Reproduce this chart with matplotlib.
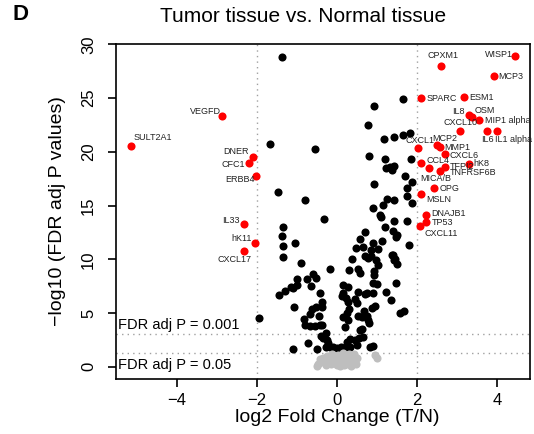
import matplotlib
matplotlib.use("Agg")
import matplotlib.pyplot as plt

plt.rcParams['font.family'] = ['Liberation Sans', 'DejaVu Sans']

# significant genes (|log2FC| > 2), labelled in red
genes = ["SULT2A1", "VEGFD", "DNER", "CFC1", "ERBB4", "IL33", "hK11", "CXCL17",
         "WISP1", "CPXM1", "MCP3", "SPARC", "ESM1", "IL8", "OSM", "MIP1 alpha",
         "CXCL10", "IL6", "IL1 alpha", "CXCL1", "MCP2", "MMP1", "CXCL6", "CCL4",
         "TFPI2", "hK8", "TNFRSF6B", "MICA/B", "OPG", "MSLN", "DNAJB1", "TP53", "CXCL11"]
gene_fc = [-5.14, -2.875, -2.095, -2.19, -2.02, -2.33, -2.04, -2.33,
           4.44, 2.60, 3.92, 2.10, 3.17, 3.30, 3.37, 3.53,
           3.07, 3.75, 4.00, 2.02, 2.50, 2.57, 2.69, 2.10,
           2.70, 3.29, 2.57, 2.29, 2.43, 2.09, 2.23, 2.23, 2.07]
gene_p = [20.51, 23.32, 19.53, 18.98, 17.74, 13.27, 11.54, 10.76,
          28.87, 27.94, 27.04, 25.00, 25.06, 23.41, 23.26, 22.95,
          21.90, 21.90, 21.90, 20.32, 20.60, 20.44, 19.82, 18.98,
          18.55, 18.89, 18.17, 18.51, 16.62, 16.03, 14.08, 13.46, 13.09]

# FDR < 0.05, |log2FC| <= 2
sig_fc = [-1.38, -1.66, -1.46, -0.81, -0.55, -0.33,
          1.65, 0.92, 0.77, 1.83, 1.64, 1.42, 1.16,
          0.80, 1.20, 1.84, 1.22, 1.42, 1.37, 1.32,
          1.69, 1.86, 0.93, 1.74, 1.74, 1.87, 1.25,
          1.41, 1.15, 0.89, 1.06, 1.10, 1.41, 1.74,
          1.20, 1.39, 1.50, 1.47, 0.71, 0.58, 1.80,
          0.90, 1.11, 0.84, 1.01, 0.48, 0.70, 0.84,
          0.96, 1.01, 0.37, 1.40, 1.45, 1.49, 0.93,
          0.92, 0.53, 0.57, 0.31, -0.17, -0.60, -0.76,
          -1.00, -1.35, -1.36, -1.35, -1.34, -1.05, -0.89,
          -0.52, -0.99, -1.09, -1.30, -1.45, -0.65, -0.42, -1.14, -1.07, -1.95,
          -0.38, -0.37, -0.52, -0.67, -0.46, -0.82, -0.79, -0.67, -0.55, -0.42,
          -0.37, -0.27, -0.40, -0.34, -0.24, -0.22, -0.28, -0.51, -1.10, -0.72,
          -0.17, -0.09, -0.01, -0.62,
          0.16, 0.14, 0.12, 0.22, 0.27, 0.28, 0.46, 0.50, 0.30, 0.24,
          0.14, 0.27, 0.20, 0.53, 0.63, 0.74, 0.77, 0.67, 0.88, 0.94,
          0.76, 0.91, 0.70, 0.52, 0.91, 0.99, 1.47, 1.22, 1.35, 1.57,
          1.67, 0.81, 0.62, 0.57, 0.66, 0.55, 0.45, 0.51, 0.32, 0.24,
          0.32, 0.22, 0.09, 0.12, 0.82, 0.89, 0.64, 0.78, 1.36, 1.43]
sig_p = [28.84, 20.72, 16.30, 15.48, 20.22, 13.74,
         24.93, 24.22, 22.48, 21.77, 21.52, 21.40, 21.18,
         19.60, 19.32, 19.32, 18.48, 18.67, 18.30, 18.60,
         17.74, 17.21, 17.00, 16.62, 15.85, 15.26, 15.63,
         15.48, 15.07, 14.79, 14.08, 13.90, 13.58, 13.55,
         13.02, 12.65, 12.22, 12.04, 12.53, 11.85, 11.29,
         11.48, 11.69, 10.88, 10.98, 11.07, 10.30, 10.33,
         9.90, 9.49, 9.99, 10.39, 10.02, 9.55, 8.87,
         8.56, 9.06, 8.74, 9.00, 9.06, 8.62, 8.19,
         8.13, 13.02, 12.16, 11.20, 10.18, 11.48, 9.65,
         8.22, 7.60, 7.29, 7.04, 6.64, 7.51, 6.83, 7.44, 5.52, 4.56,
         5.99, 5.55, 5.55, 4.93, 4.72, 4.41, 3.88, 3.82, 3.82, 3.85,
         3.90, 3.10, 2.86, 2.64, 2.48, 2.17, 1.86, 1.65, 1.68, 2.17,
         1.80, 1.86, 1.77, 5.40,
         7.60, 6.83, 6.60, 6.36, 6.05, 7.39, 6.27, 5.90, 5.40, 4.97,
         4.60, 4.34, 3.72, 4.74, 4.60, 4.74, 4.34, 5.15, 5.43, 5.65,
         6.83, 6.83, 6.73, 6.92, 7.76, 7.69, 7.76, 6.92, 6.18, 5.00,
         5.20, 4.10, 3.51, 3.41, 2.79, 2.70, 2.48, 2.02, 2.55, 2.33,
         1.86, 1.80, 1.86, 1.71, 1.86, 1.95, 11.16, 10.08, 10.39, 9.93]

# not significant (FDR >= 0.05)
ns_fc = [-0.51, -0.48, -0.40, -0.30, -0.24, -0.20, -0.15, -0.10, -0.05, 0.00,
         0.02, 0.05, 0.10, 0.12, 0.18, 0.20, 0.25, 0.28, 0.32, 0.35,
         0.40, 0.42, 0.48, 0.50, -0.35, -0.28, 0.08, -0.12, 0.15, 0.30,
         -0.42, 0.95, 0.99, 0.45, -0.02, 0.22]
ns_p = [0.10, 0.30, 0.45, 0.50, 1.00, 0.70, 0.30, 0.90, 0.55, 0.20,
        1.10, 0.75, 0.40, 0.95, 0.15, 0.60, 1.05, 0.35, 0.80, 0.10,
        0.55, 1.15, 0.30, 0.85, 0.85, 0.20, 0.05, 1.20, 1.25, 1.20,
        0.70, 1.09, 0.78, 0.95, 0.35, 0.25]

# text placement for gene labels: offset in pixels, horizontal alignment
label_pos = [(3, 9, 'left'), (-1, 5, 'right'), (-4, 5, 'right'), (-4, -2, 'right'),
             (-1, -3, 'right'), (-4, 4, 'right'), (-3, 4, 'right'), (8, -8, 'right'),
             (-2, 2, 'right'), (2, 11, 'center'), (4, 0, 'left'), (5, 0, 'left'),
             (5, 0, 'left'), (-5, 4, 'right'), (2, 6, 'left'), (6, 0, 'left'),
             (0, 9, 'center'), (0, -8, 'center'), (-2, -8, 'left'), (2, 8, 'center'),
             (7, 7, 'center'), (4, 0, 'left'), (5, -2, 'left'), (5, 2, 'left'),
             (4, 1, 'left'), (4, 0, 'left'), (10, -1, 'left'), (7, -11, 'center'),
             (5, 0, 'left'), (5, -5, 'left'), (5, 2, 'left'), (5, 0, 'left'), (4, -7, 'left')]

fig = plt.figure(figsize=(5.34, 4.34), dpi=100)
ax = fig.add_axes([0.2165, 0.1265, 0.7766, 0.7721])

ax.axvline(-2, color='#a0a0a0', lw=1, ls=(0, (1, 3)))
ax.axvline(2, color='#a0a0a0', lw=1, ls=(0, (1, 3)))
ax.axhline(3, color='#a0a0a0', lw=1, ls=(0, (1, 3)))
ax.axhline(1.3, color='#a0a0a0', lw=1, ls=(0, (1, 3)))

ax.scatter(sig_fc, sig_p, s=34, c='black', linewidths=0, zorder=3)
ax.scatter(ns_fc, ns_p, s=34, c='#bebebe', linewidths=0, zorder=3)
ax.scatter(gene_fc, gene_p, s=34, c='red', linewidths=0, zorder=4)

for g, x, y, (dx, dy, ha) in zip(genes, gene_fc, gene_p, label_pos):
    ax.annotate(g, (x, y), xytext=(dx, dy), textcoords='offset pixels',
                ha=ha, va='center', fontsize=6.5, color='#222222', zorder=5)

ax.text(-5.45, 3.25, "FDR adj P = 0.001", fontsize=10.5, ha='left', va='bottom')
ax.text(-5.45, 0.2, "FDR adj P = 0.05", fontsize=10.5, ha='left', va='center')

ax.set_xlim(-5.52, 4.82)
ax.set_ylim(-1.15, 30.03)
ax.set_xticks([-4, -2, 0, 2, 4])
ax.set_yticks([0, 5, 10, 15, 20, 25, 30])
for s in ax.spines.values():
    s.set_linewidth(1.2)
ax.tick_params(axis='both', length=6, width=1.2, labelsize=12)
ax.tick_params(axis='x', pad=4)
ax.tick_params(axis='y', pad=8)
for lab in ax.get_yticklabels():
    lab.set_rotation(90)
    lab.set_va('center')

fig.text(303 / 534, 1 - 17 / 434, "Tumor tissue vs. Normal tissue", ha='center', va='center', fontsize=15)
fig.text(13 / 534, 1 - 14 / 434, "D", ha='left', va='center', fontsize=16, fontweight='bold')
fig.text(337 / 534, 1 - 418 / 434, "log2 Fold Change (T/N)", ha='center', va='center', fontsize=14)
fig.text(57 / 534, 1 - 211 / 434, "\u2212log10 (FDR adj P values)", ha='center', va='center',
         rotation=90, fontsize=14)

fig.savefig("out.png", dpi=100)
